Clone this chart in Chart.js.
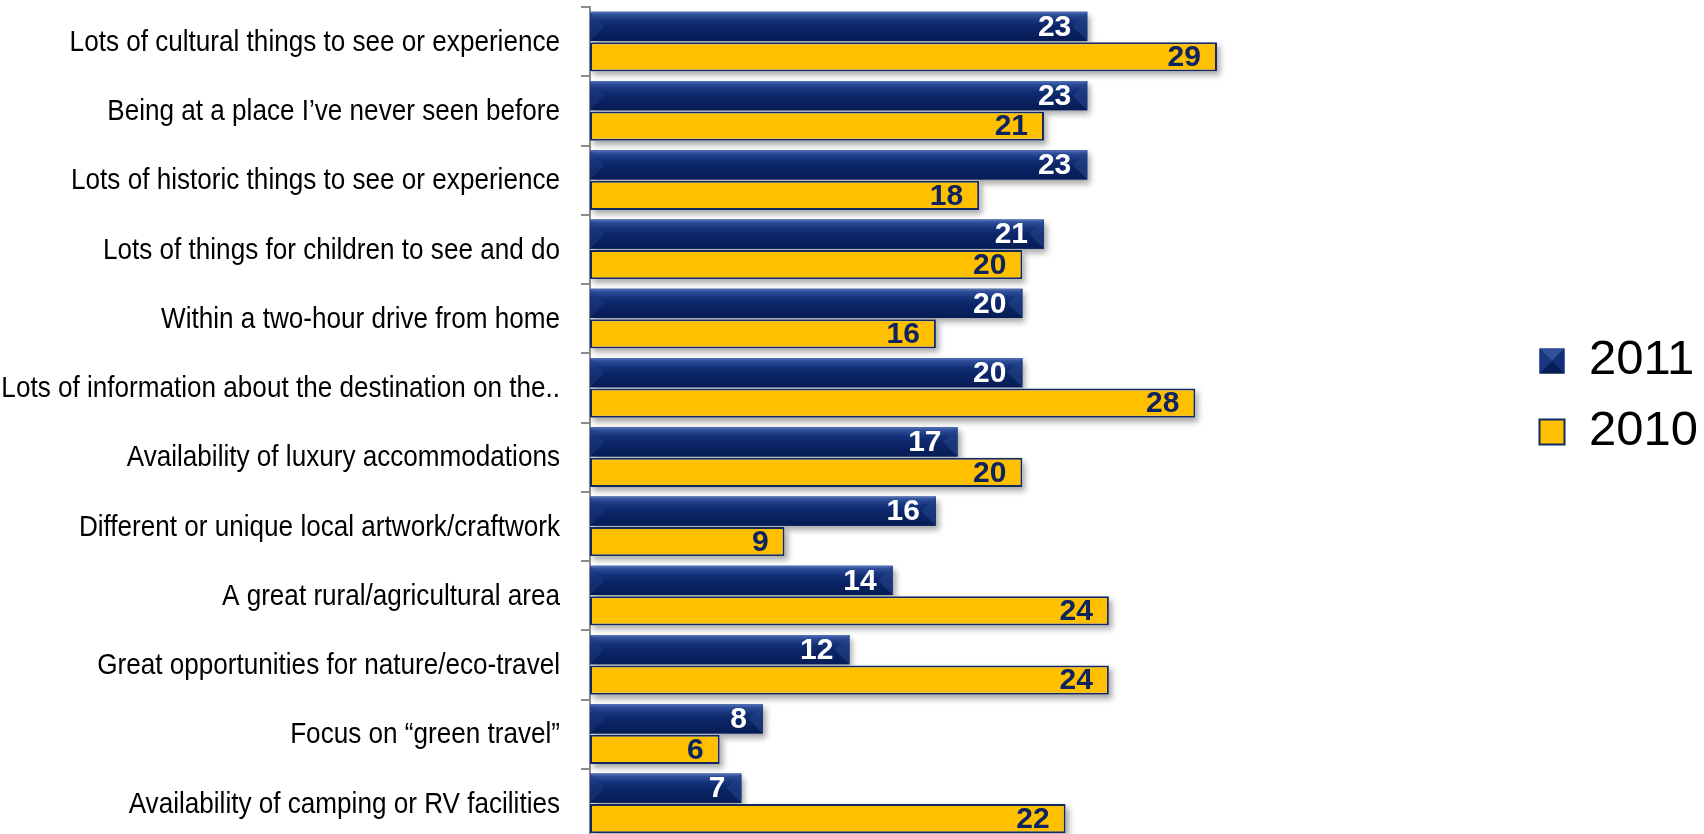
<!DOCTYPE html>
<html>
<head>
<meta charset="utf-8">
<title>Destination attributes 2011 vs 2010</title>
<script src="https://cdn.jsdelivr.net/npm/chart.js@4.4.1/dist/chart.umd.min.js"></script>
<style>
  html, body { margin: 0; padding: 0; background: #fff; overflow: hidden; }
  #wrap { position: relative; width: 1704px; height: 834px; overflow: hidden; }
  #box { position: relative; width: 1704px; height: 838px; }
</style>
</head>
<body>
<div id="wrap"><div id="box"><canvas id="attrs"></canvas></div></div>
<script>
var categories = [
    'Lots of cultural things to see or experience',
    'Being at a place I\u2019ve never seen before',
    'Lots of historic things to see or experience',
    'Lots of things for children to see and do',
    'Within a two-hour drive from home',
    'Lots of information about the destination on the..',
    'Availability of luxury accommodations',
    'Different or unique local artwork/craftwork',
    'A great rural/agricultural area',
    'Great opportunities for nature/eco-travel',
    'Focus on \u201cgreen travel\u201d',
    'Availability of camping or RV facilities'
];
var values2011 = [23, 23, 23, 21, 20, 20, 17, 16, 14, 12, 8, 7];
var values2010 = [29, 21, 18, 20, 16, 28, 20, 9, 24, 24, 6, 22];
var seriesNames = ['2011', '2010'];

var NAVY = '#0b2466';
var NAVY_EDGE = '#12285e';
var GOLD = '#ffc000';
var AXIS_GREY = '#8c8c8c';
var SANS = "'Liberation Sans', Arial, sans-serif";

var TICK_LEN = 9;
var LABEL_GAP = 21;
var LABEL_SIZE = 30;
var NARROW_X = 0.87;   // horizontal squeeze, no condensed face is installed

// rectangle of a horizontal bar element
function barRect(bar) {
    var p = bar.getProps(['x', 'y', 'base', 'height'], true);
    return { left: Math.min(p.base, p.x), right: Math.max(p.base, p.x), top: p.y - p.height / 2, h: p.height, cy: p.y };
}

// soft grey drop shadow behind every bar
var barShadow = {
    id: 'barShadow',
    beforeDatasetsDraw: function(chart) {
        var ctx = chart.ctx;
        ctx.save();
        ctx.shadowColor = 'rgba(0,0,0,0.35)';
        ctx.shadowBlur = 6;
        ctx.shadowOffsetX = 3;
        ctx.shadowOffsetY = 4;
        ctx.fillStyle = '#fff';
        chart.data.datasets.forEach(function(ds, i) {
            chart.getDatasetMeta(i).data.forEach(function(bar) {
                var r = barRect(bar);
                ctx.fillRect(r.left, r.top, r.right - r.left, r.h);
            });
        });
        ctx.restore();
    }
};

// glossy bevel on the 2011 bars
var navyBevel = {
    id: 'navyBevel',
    afterDatasetDraw: function(chart, args) {
        if (args.index !== 0) return;
        var ctx = chart.ctx;
        ctx.save();
        args.meta.data.forEach(function(bar) {
            var r = barRect(bar);
            var w = r.right - r.left;
            var g = ctx.createLinearGradient(0, r.top, 0, r.top + r.h);
            g.addColorStop(0, '#5574bb');
            g.addColorStop(0.1, '#2f4e99');
            g.addColorStop(0.3, '#14337a');
            g.addColorStop(0.55, '#0b2566');
            g.addColorStop(1, '#061c55');
            ctx.fillStyle = g;
            ctx.fillRect(r.left, r.top, w, r.h);
            var d = Math.min(r.h / 2, w / 2);
            // end facets
            ctx.fillStyle = 'rgba(40,70,140,0.55)';
            ctx.beginPath();
            ctx.moveTo(r.right, r.top);
            ctx.lineTo(r.right, r.top + r.h);
            ctx.lineTo(r.right - d, r.cy);
            ctx.closePath();
            ctx.fill();
            ctx.fillStyle = 'rgba(30,60,130,0.45)';
            ctx.beginPath();
            ctx.moveTo(r.left, r.top);
            ctx.lineTo(r.left, r.top + r.h);
            ctx.lineTo(r.left + d, r.cy);
            ctx.closePath();
            ctx.fill();
        });
        ctx.restore();
    }
};

// value printed inside the end of each bar
var valueLabels = {
    id: 'valueLabels',
    afterDatasetsDraw: function(chart) {
        var ctx = chart.ctx;
        ctx.save();
        ctx.font = 'bold 30px ' + SANS;
        ctx.textAlign = 'right';
        ctx.textBaseline = 'middle';
        chart.data.datasets.forEach(function(ds, i) {
            ctx.fillStyle = i === 0 ? '#ffffff' : '#0d2460';
            chart.getDatasetMeta(i).data.forEach(function(bar, j) {
                var r = barRect(bar);
                ctx.fillText(String(ds.data[j]), r.right - 16, r.cy + 1);
            });
        });
        ctx.restore();
    }
};

// category names, narrowed like Arial Narrow
var categoryLabels = {
    id: 'categoryLabels',
    afterDraw: function(chart) {
        var scale = chart.scales.y;
        var ctx = chart.ctx;
        var xRight = scale.right - TICK_LEN - LABEL_GAP;
        ctx.save();
        ctx.font = LABEL_SIZE + 'px ' + SANS;
        ctx.fillStyle = '#000';
        ctx.textAlign = 'right';
        ctx.textBaseline = 'middle';
        ctx.scale(NARROW_X, 1);
        scale.ticks.forEach(function(t, i) {
            var y = scale.getPixelForTick(i);
            ctx.fillText(String(scale.getLabelForValue(t.value)), xRight / NARROW_X, y + 1);
        });
        ctx.restore();
    }
};

// pyramid look on the 2011 legend swatch
var legendBevel = {
    id: 'legendBevel',
    afterDraw: function(chart) {
        var lg = chart.legend;
        if (!lg || !lg.legendHitBoxes || !lg.legendHitBoxes.length) return;
        var hb = lg.legendHitBoxes[0];
        var bw = lg.options.labels.boxWidth, bh = lg.options.labels.boxHeight;
        var fs = lg.options.labels.font.size;
        var x = hb.left, y = hb.top + Math.max((fs - bh) / 2, 0);
        var cx = x + bw / 2, cy = y + bh / 2;
        var ctx = chart.ctx;
        var faces = [
            [[x, y], [x + bw, y], '#31509b'],
            [[x + bw, y], [x + bw, y + bh], '#12307a'],
            [[x + bw, y + bh], [x, y + bh], '#071d56'],
            [[x, y + bh], [x, y], '#1a3881']
        ];
        ctx.save();
        faces.forEach(function(f) {
            ctx.fillStyle = f[2];
            ctx.beginPath();
            ctx.moveTo(f[0][0], f[0][1]);
            ctx.lineTo(f[1][0], f[1][1]);
            ctx.lineTo(cx, cy);
            ctx.closePath();
            ctx.fill();
        });
        ctx.restore();
    }
};

document.addEventListener('DOMContentLoaded', function() {
    var ctx = document.getElementById('attrs').getContext('2d');
    new Chart(ctx, {
        type: 'bar',
        data: {
            labels: categories,
            datasets: [{
                label: seriesNames[0],
                data: values2011,
                backgroundColor: NAVY,
                borderWidth: 0,
                categoryPercentage: 0.88,
                barPercentage: 0.96
            }, {
                label: seriesNames[1],
                data: values2010,
                backgroundColor: GOLD,
                borderColor: NAVY_EDGE,
                borderWidth: 2,
                borderSkipped: false,
                categoryPercentage: 0.88,
                barPercentage: 0.96
            }]
        },
        options: {
            indexAxis: 'y',
            responsive: true,
            maintainAspectRatio: false,
            animation: false,
            events: [],
            layout: { padding: { top: 7, left: 10, right: -4, bottom: 0 } },
            scales: {
                x: { display: false, min: 0, max: 42.9 },
                y: {
                    afterFit: function(scale) { scale.width = 580; },
                    grid: {
                        offset: true,
                        drawOnChartArea: false,
                        drawTicks: true,
                        tickLength: TICK_LEN,
                        color: AXIS_GREY,
                        lineWidth: 2
                    },
                    border: { display: true, color: AXIS_GREY, width: 2 },
                    ticks: { display: false, autoSkip: false }
                }
            },
            plugins: {
                tooltip: { enabled: false },
                legend: {
                    position: 'right',
                    align: 'start',
                    // empty title just pushes the entries down to mid height
                    title: { display: true, text: '', padding: { top: 293, bottom: 0 } },
                    labels: {
                        boxWidth: 25,
                        boxHeight: 25,
                        padding: 22,
                        color: '#000',
                        font: { family: SANS, size: 49 }
                    }
                }
            }
        },
        plugins: [barShadow, navyBevel, valueLabels, categoryLabels, legendBevel]
    });
});
</script>
</body>
</html>
